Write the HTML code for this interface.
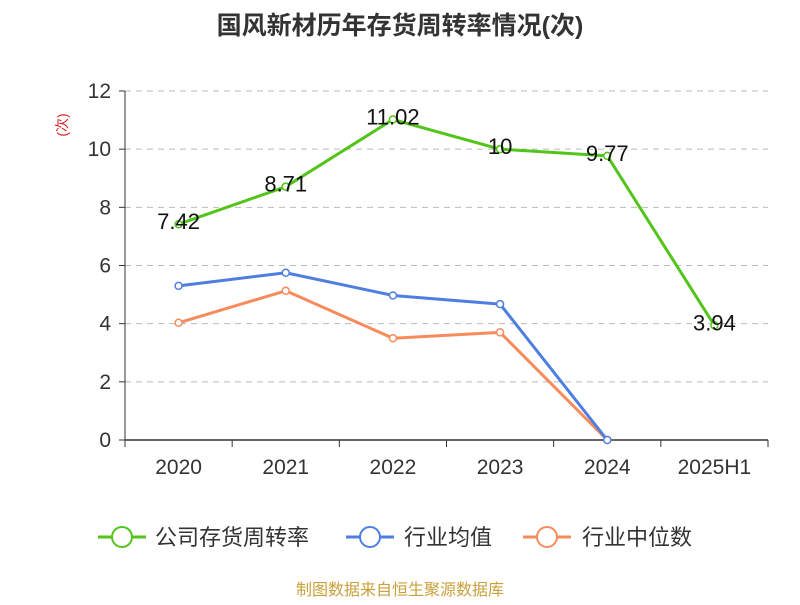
<!DOCTYPE html>
<html><head><meta charset="utf-8"><style>
body{margin:0;background:#fff;font-family:"Liberation Sans","Noto Sans CJK SC",sans-serif;}
</style></head><body>
<svg width="800" height="600" xmlns="http://www.w3.org/2000/svg" font-family="Liberation Sans, Noto Sans CJK SC, sans-serif">
<text x="400" y="34" text-anchor="middle" font-size="25" font-weight="bold" fill="#333">国风新材历年存货周转率情况(次)</text>
<text transform="translate(67,125) rotate(-90)" text-anchor="middle" font-size="14" fill="#d22">(次)</text>
<g id="grid"></g>
<g id="axes"></g>
<g id="series"></g>
<g font-size="22" fill="#333">
 <g><line x1="98" y1="537" x2="146" y2="537" stroke="#52c41a" stroke-width="3"/><circle cx="122" cy="537" r="10" fill="#fff" stroke="#52c41a" stroke-width="2"/><text x="155" y="545">公司存货周转率</text></g>
 <g><line x1="346" y1="537" x2="394" y2="537" stroke="#4e7fe0" stroke-width="3"/><circle cx="370" cy="537" r="10" fill="#fff" stroke="#4e7fe0" stroke-width="2"/><text x="404" y="545">行业均值</text></g>
 <g><line x1="523" y1="537" x2="571" y2="537" stroke="#f78b5b" stroke-width="3"/><circle cx="547" cy="537" r="10" fill="#fff" stroke="#f78b5b" stroke-width="2"/><text x="582" y="545">行业中位数</text></g>
</g>
<text x="400" y="595" text-anchor="middle" font-size="16" fill="#c9a03a">制图数据来自恒生聚源数据库</text>
</svg>
<script>
const categories=["2020","2021","2022","2023","2024","2025H1"];
const companyValues=[7.42,8.71,11.02,10,9.77,3.94];
const companyLabels=["7.42","8.71","11.02","10","9.77","3.94"];
const avgValues=[5.3,5.75,4.97,4.67,0];
const medianValues=[4.03,5.13,3.5,3.7,0];
const yTicks=[0,2,4,6,8,10,12];
const NS="http://www.w3.org/2000/svg";
const x0=125,x1=768,yb=440,yt=91,ymax=12;
const bw=(x1-x0)/categories.length;
const xs=i=>x0+bw*(i+0.5);
const ys=v=>yb-(v/ymax)*(yb-yt);
function mk(tag,attrs,parent,txt){const e=document.createElementNS(NS,tag);for(const k in attrs)e.setAttribute(k,attrs[k]);if(txt!==undefined)e.textContent=txt;parent.appendChild(e);return e;}
const grid=document.getElementById('grid'),axes=document.getElementById('axes'),series=document.getElementById('series');
yTicks.forEach(t=>{
 if(t>0){const g=mk('line',{x1:x0,x2:x1,y1:ys(t),y2:ys(t),stroke:'#bbb','stroke-dasharray':'6,5'},grid);
 
 }
 const tk=mk('line',{x1:x0-6,x2:x0,y1:ys(t),y2:ys(t),stroke:'#333'},axes);
 
 
 const lb=mk('text',{x:x0-14,y:ys(t)+7,'text-anchor':'end','font-size':21,fill:'#333'},axes,String(t));
 
 
});
const ya=mk('line',{x1:x0,x2:x0,y1:yt,y2:yb,stroke:'#333'},axes);


const xa=mk('line',{x1:x0,x2:x1,y1:yb,y2:yb,stroke:'#333','stroke-width':1.5},axes);


for(let i=0;i<=categories.length;i++){const t=mk('line',{x1:x0+bw*i,x2:x0+bw*i,y1:yb,y2:yb+7,stroke:'#333'},axes);
 
 }
categories.forEach((c,i)=>{const t=mk('text',{x:xs(i),y:yb+34,'text-anchor':'middle','font-size':21,fill:'#333'},axes,c);
 
 });
function line(vals,color,name){
 const p=mk('polyline',{points:vals.map((v,i)=>xs(i)+','+ys(v)).join(' '),fill:'none',stroke:color,'stroke-width':3,'stroke-linejoin':'round'},series);
 
 
 vals.forEach((v,i)=>{const c=mk('circle',{cx:xs(i),cy:ys(v),r:3.5,fill:'#fff',stroke:color,'stroke-width':1.5},series);
  
  });
}
line(medianValues,'#f78b5b','industry-median');
line(avgValues,'#4e7fe0','industry-avg');
line(companyValues,'#52c41a','company');
companyValues.forEach((v,i)=>{const t=mk('text',{x:xs(i),y:ys(v)+5,'text-anchor':'middle','font-size':22,fill:'#111'},series,companyLabels[i]);
 
 });
</script>
</body></html>
